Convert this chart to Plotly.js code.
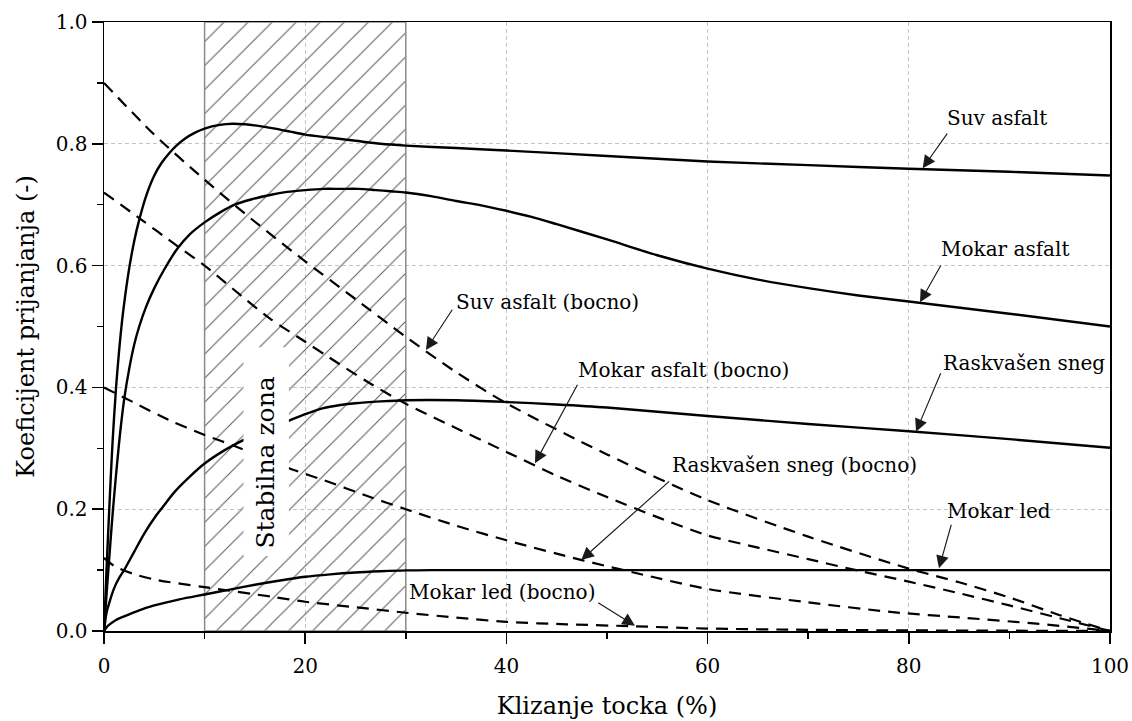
<!DOCTYPE html>
<html>
<head>
<meta charset="utf-8">
<script src="https://cdn.plot.ly/plotly-3.0.1.min.js"></script>
<style>html,body{margin:0;padding:0;background:#fff;}#chart{width:1132px;height:721px;}</style>
</head>
<body>
<div id="chart"></div>
<script>
// ---- data ----
const suvX = [0,0.25,0.55,0.85,1.2,1.5,1.8,2.1,2.5,3.0,3.5,4.2,5,5.7,6.5,7.2,8,9,10,11.5,12.8,14,15.5,17,18.5,20,22.5,25,27.5,30,35,40,50,60,70,80,90,100];
const suvY = [0,0.10,0.21,0.31,0.40,0.46,0.51,0.55,0.595,0.64,0.675,0.715,0.748,0.768,0.785,0.797,0.808,0.818,0.825,0.831,0.833,0.832,0.829,0.825,0.82,0.815,0.81,0.805,0.80,0.797,0.793,0.789,0.780,0.771,0.765,0.759,0.754,0.748];

const mokarX = [0,0.25,0.5,0.75,1.0,1.3,1.6,2.0,2.5,3.0,3.5,4.2,5,6,7.3,8.5,10,11.5,13,14.7,16.5,18.2,20,21.8,23.5,25.3,27,28.5,30,32.5,35,37.5,40,42.5,45,50,55,60,65,70,75,80,90,100];
const mokarY = [0,0.06,0.115,0.17,0.22,0.275,0.325,0.38,0.43,0.47,0.50,0.533,0.563,0.594,0.628,0.651,0.671,0.687,0.70,0.709,0.716,0.721,0.724,0.726,0.726,0.726,0.724,0.722,0.72,0.714,0.706,0.699,0.690,0.680,0.668,0.643,0.617,0.595,0.577,0.563,0.551,0.541,0.521,0.50];

const snegX = [0,0.25,0.5,1,1.5,2,3,4,5.2,6,7,8.5,10,12,13.8,16,18.45,20,21.8,23.5,25,27.5,30,35,40,45,50,60,70,80,90,100];
const snegY = [0,0.03,0.045,0.07,0.087,0.10,0.13,0.16,0.19,0.207,0.228,0.253,0.275,0.297,0.313,0.33,0.346,0.356,0.366,0.371,0.374,0.377,0.379,0.379,0.376,0.372,0.367,0.353,0.340,0.328,0.315,0.301];

const ledX = [0,0.25,0.5,1.2,2,3.5,5,7.5,10,12.5,15,17.5,20,22.5,25,27.5,30,32.5,35,40,60,80,100];
const ledY = [0,0.006,0.010,0.018,0.024,0.034,0.042,0.052,0.060,0.068,0.076,0.083,0.089,0.093,0.096,0.098,0.0995,0.100,0.100,0.100,0.100,0.100,0.100];

const suvBX = [0,5,10,15,20,25,30,35,40,50,60,70,80,85,90,95,100];
const suvBY = [0.90,0.815,0.741,0.672,0.607,0.545,0.483,0.425,0.374,0.29,0.215,0.155,0.1025,0.08,0.055,0.026,0.0];

const mokarBX = [0,3.5,7.3,10,12.8,16.5,20,22.4,26.1,30,34,40,45,50,55,60,65,70,75,80,85,90,95,100];
const mokarBY = [0.72,0.678,0.632,0.600,0.562,0.513,0.475,0.449,0.410,0.373,0.341,0.294,0.255,0.22,0.187,0.157,0.137,0.118,0.099,0.081,0.062,0.042,0.021,0.0];

const snegBX = [0,2.87,6.5,10,13.1,16,19.1,21.8,26.1,30,35,40,47.6,55,60,70,78.4,85.75,92.7,100];
const snegBY = [0.40,0.376,0.346,0.322,0.303,0.283,0.263,0.248,0.222,0.200,0.173,0.149,0.116,0.087,0.069,0.047,0.031,0.0214,0.012,0.0];

const ledBX = [0,1,2.87,5.2,10,16.8,20,25,30,35,40,46,52.8,60,70,80,90,100];
const ledBY = [0.12,0.107,0.094,0.084,0.072,0.056,0.048,0.039,0.030,0.022,0.015,0.011,0.0077,0.004,0.002,0.001,0.0005,0.0];

const stableZone = [10, 30];   // stable zone (x range, %)
const xTicks = [0,20,40,60,80,100];

const labels = ["Suv asfalt","Mokar asfalt","Suv asfalt (bocno)","Mokar asfalt (bocno)",
                "Raskvašen sneg","Raskvašen sneg (bocno)","Mokar led","Mokar led (bocno)"];
const zoneLabel = "Stabilna zona";
const xTitle = "Klizanje tocka (%)";
const yTitle = "Koeficijent prijanjanja (-)";

// ---- traces ----
const FONT = "DejaVu Serif";
const solid = {color:"#000", width:2.4, shape:"spline", smoothing:0.8};
const dashed = {color:"#000", width:2.2, dash:"12px,8px", shape:"spline", smoothing:0.8};

const traces = [
  {type:"bar", x:[(stableZone[0]+stableZone[1])/2], y:[1], width:[stableZone[1]-stableZone[0]], base:[0],
   marker:{color:"rgba(0,0,0,0)", line:{color:"#8a8a8a", width:1.5},
           pattern:{shape:"/", size:17, solidity:0.06, fgcolor:"#5a5a5a", bgcolor:"rgba(0,0,0,0)"}},
   hoverinfo:"skip", showlegend:false},
  {x:suvX, y:suvY, mode:"lines", line:solid, name:labels[0]},
  {x:mokarX, y:mokarY, mode:"lines", line:solid, name:labels[1]},
  {x:snegX, y:snegY, mode:"lines", line:solid, name:labels[4]},
  {x:ledX, y:ledY, mode:"lines", line:solid, name:labels[6]},
  {x:suvBX, y:suvBY, mode:"lines", line:dashed, name:labels[2]},
  {x:mokarBX, y:mokarBY, mode:"lines", line:dashed, name:labels[3]},
  {x:snegBX, y:snegBY, mode:"lines", line:dashed, name:labels[5]},
  {x:ledBX, y:ledBY, mode:"lines", line:dashed, name:labels[7]}
];

// ---- annotations ----
const lblFont = {family:FONT, size:20, color:"#000"};
function txt(t, x, y){ return {text:t, x:x, y:y, xref:"x", yref:"y", showarrow:false, font:lblFont, xanchor:"center", yanchor:"middle"}; }
function arr(x, y, ax, ay){ return {text:"", x:x, y:y, xref:"x", yref:"y", ax:ax, ay:ay, showarrow:true,
  arrowhead:2, arrowsize:2.2, arrowwidth:1.15, arrowcolor:"#1a1a1a", standoff:0}; }

const annotations = [
  txt(labels[0], 88.8, 0.843),
  txt(labels[1], 89.6, 0.627),
  txt(labels[2], 44.1, 0.540),
  txt(labels[3], 57.65, 0.4286),
  txt(labels[4], 91.45, 0.44),
  txt(labels[5], 68.6, 0.2726),
  txt(labels[6], 88.97, 0.197),
  txt(labels[7], 39.6, 0.064),
  arr(81.38, 0.760, 25.6, -36),
  arr(81.11, 0.5397, 21.7, -38.3),
  arr(32.0, 0.4614, 27.3, -41.7),
  arr(42.84, 0.2754, 43.3, -80),
  arr(80.72, 0.3273, 25.3, -60),
  arr(47.44, 0.1166, 89.4, -80),
  arr(83.0, 0.103, 12.7, -45),
  arr(52.78, 0.0087, -38.3, -24),
  {text:zoneLabel, x:16.1, y:0.2765, xref:"x", yref:"y", showarrow:false, textangle:-90,
   font:{family:FONT, size:25, color:"#000"}, xanchor:"center", yanchor:"middle"}
];

const shapes = [
  {type:"rect", xref:"x", yref:"y", x0:13.87, x1:18.38, y0:0.123, y1:0.466,
   fillcolor:"#fff", line:{width:0}, layer:"above"}
];

const axisCommon = {
  showline:true, linecolor:"#000", linewidth:1.5, mirror:true,
  ticks:"outside", ticklen:11, tickwidth:1.5, tickcolor:"#000",
  showgrid:true, gridcolor:"#c4c4c4", gridwidth:1, griddash:"4px,3px",
  zeroline:false, tickfont:{family:FONT, size:20, color:"#000"}
};

const layout = {
  width:1132, height:721,
  margin:{l:104, r:22, t:22, b:90, pad:0},
  paper_bgcolor:"#fff", plot_bgcolor:"#fff",
  showlegend:false,
  xaxis:Object.assign({}, axisCommon, {
    range:[0,100], tickvals:xTicks, ticktext:xTicks.map(String), ticklabelstandoff:5,
    minor:{dtick:10, tick0:0, ticks:"outside", ticklen:6, tickwidth:1.5, tickcolor:"#000", showgrid:false},
    title:{text:xTitle, font:{family:FONT, size:24, color:"#000"}, standoff:20}
  }),
  yaxis:Object.assign({}, axisCommon, {
    range:[0,1], dtick:0.2, tick0:0, tickformat:".1f",
    minor:{dtick:0.1, tick0:0, ticks:"outside", ticklen:6, tickwidth:1.5, tickcolor:"#000", showgrid:false},
    title:{text:yTitle, font:{family:FONT, size:24, color:"#000"}, standoff:14}
  }),
  annotations:annotations,
  shapes:shapes
};

Plotly.newPlot("chart", traces, layout, {staticPlot:true, displayModeBar:false});
</script>
</body>
</html>
